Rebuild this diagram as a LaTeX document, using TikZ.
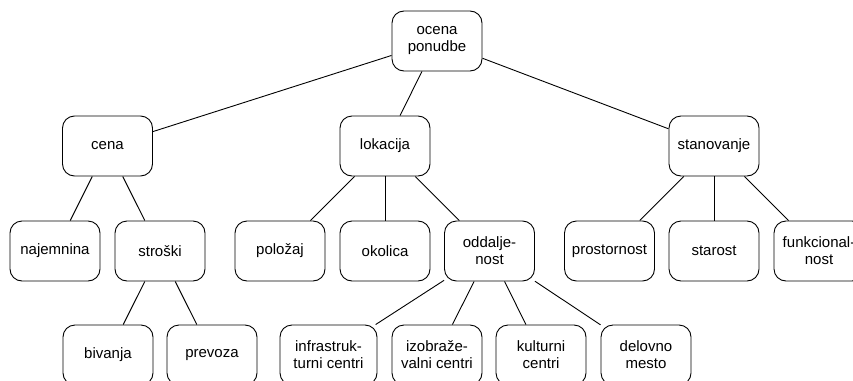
\documentclass[tikz,border=0pt]{standalone}
\usepackage{fontspec}
\setmainfont{Liberation Sans}
\begin{document}
\begin{tikzpicture}[x=1pt,y=-1pt,
  box/.style={draw=black, line width=0.9pt, rounded corners=12pt, minimum width=90pt, minimum height=60pt,
    align=center, inner sep=2pt, font=\fontsize{15pt}{17pt}\selectfont},
  link/.style={draw=black, line width=0.9pt}]
\useasboundingbox (0,0) rectangle (853,380);
\clip (0,0) rectangle (853,380);
\node[box] (root) at (437,41) {ocena\\ponudbe};
\node[box] (cena) at (107.5,146) {cena};
\node[box] (lok) at (385,146) {lokacija};
\node[box] (stan) at (714,146) {stanovanje};
\node[box] (naj) at (55,251) {najemnina};
\node[box] (str) at (160,251) {stroški};
\node[box] (pol) at (280,251) {položaj};
\node[box] (oko) at (385,251) {okolica};
\node[box] (odd) at (489.5,251) {oddalje-\\nost};
\node[box] (pro) at (609.5,251) {prostornost};
\node[box] (sta) at (714,251) {starost};
\node[box] (fun) at (819,251) {funkcional-\\nost};
\node[box] (biv) at (108,355) {bivanja};
\node[box] (pre) at (212,355) {prevoza};
\node[box, minimum width=97pt] (inf) at (328.5,355) {infrastruk-\\turni centri};
\node[box] (izo) at (437,355) {izobraže-\\valni centri};
\node[box] (kul) at (541,355) {kulturni\\centri};
\node[box] (del) at (646,355) {delovno\\mesto};
\draw[link] (root) -- (cena);
\draw[link] (root) -- (lok);
\draw[link] (root) -- (stan);
\draw[link] (cena) -- (naj);
\draw[link] (cena) -- (str);
\draw[link] (lok) -- (pol);
\draw[link] (lok) -- (oko);
\draw[link] (lok) -- (odd);
\draw[link] (stan) -- (pro);
\draw[link] (stan) -- (sta);
\draw[link] (stan) -- (fun);
\draw[link] (str) -- (biv);
\draw[link] (str) -- (pre);
\draw[link] (odd) -- (inf);
\draw[link] (odd) -- (izo);
\draw[link] (odd) -- (kul);
\draw[link] (odd) -- (del);
\end{tikzpicture}
\end{document}
